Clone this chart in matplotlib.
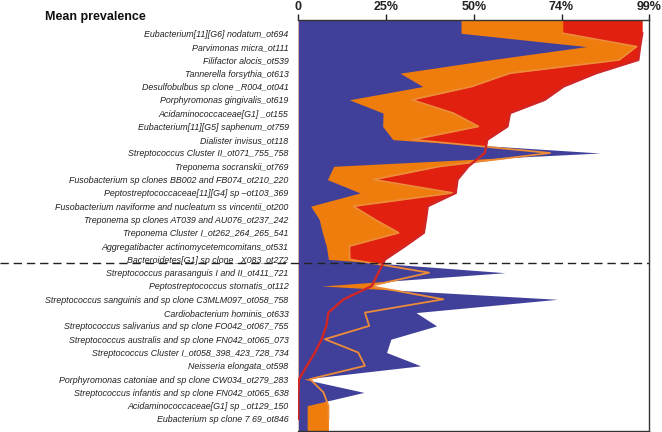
import numpy as np
import matplotlib
matplotlib.use("Agg")
import matplotlib.pyplot as plt

species = [
    "Eubacterium[11][G6] nodatum_ot694",
    "Parvimonas micra_ot111",
    "Filifactor alocis_ot539",
    "Tannerella forsythia_ot613",
    "Desulfobulbus sp clone _R004_ot041",
    "Porphyromonas gingivalis_ot619",
    "Acidaminococcaceae[G1] _ot155",
    "Eubacterium[11][G5] saphenum_ot759",
    "Dialister invisus_ot118",
    "Streptococcus Cluster II_ot071_755_758",
    "Treponema socranskii_ot769",
    "Fusobacterium sp clones BB002 and FB074_ot210_220",
    "Peptostreptococcaceae[11][G4] sp \u2013ot103_369",
    "Fusobacterium naviforme and nucleatum ss vincentii_ot200",
    "Treponema sp clones AT039 and AU076_ot237_242",
    "Treponema Cluster I_ot262_264_265_541",
    "Aggregatibacter actinomycetemcomitans_ot531",
    "Bacteroidetes[G1] sp clone _X083_ot272",
    "Streptococcus parasanguis I and II_ot411_721",
    "Peptostreptococcus stomatis_ot112",
    "Streptococcus sanguinis and sp clone C3MLM097_ot058_758",
    "Cardiobacterium hominis_ot633",
    "Streptococcus salivarius and sp clone FO042_ot067_755",
    "Streptococcus australis and sp clone FN042_ot065_073",
    "Streptococcus Cluster I_ot058_398_423_728_734",
    "Neisseria elongata_ot598",
    "Porphyromonas catoniae and sp clone CW034_ot279_283",
    "Streptococcus infantis and sp clone FN042_ot065_638",
    "Acidaminococcaceae[G1] sp _ot129_150",
    "Eubacterium sp clone 7 69_ot846",
]

blue = [45.9, 81.3, 54.0, 28.7, 35.1, 14.4, 23.9, 23.8, 26.7, 85.1,
        10.0, 8.2, 17.4, 3.5, 5.9, 6.8, 7.9, 8.5, 58.3, 6.6,
        73.1, 33.2, 39.0, 26.1, 24.9, 34.5, 1.5, 18.5, 2.5, 2.5]
orange = [74.6, 95.4, 90.5, 59.7, 48.9, 32.0, 43.7, 50.8, 32.3, 71.0,
          40.0, 21.2, 43.5, 15.5, 21.6, 28.3, 14.4, 14.5, 36.9, 20.2,
          40.9, 18.8, 20.0, 7.5, 16.9, 18.8, 3.3, 7.1, 8.5, 8.5]
red = [97.0, 96.4, 95.9, 84.0, 74.8, 69.5, 59.7, 59.0, 53.3, 52.6,
       48.0, 44.9, 44.4, 36.5, 36.0, 35.4, 30.1, 24.5, 22.6, 20.7,
       12.8, 8.5, 7.9, 6.6, 4.7, 2.4, 0.2, 0.0, 0.0, 0.0]

tick_vals = [0, 24.75, 49.5, 74.25, 99]
tick_labels = ["0", "25%", "50%", "74%", "99%"]
split_after = 17.25   # dashed separator position (row units)

C_BLUE = "#40409a"
C_ORANGE = "#ef7d0e"
C_RED = "#e2200f"
C_ORANGE_LINE = "#ec8b38"
C_RED_LINE = "#d02626"

fig = plt.figure(figsize=(6.62, 4.32), dpi=100)
ax = fig.add_axes([298.3 / 662, 1 - 430.7 / 432, 351 / 662, (430.7 - 20) / 432])

n = len(species)
y = np.arange(n)
top_pad, bot_pad = 1.0, 0.88
y_ext = np.concatenate([[-top_pad], y, [n - 1 + bot_pad]])

def ext(v):
    v = np.asarray(v, float)
    return np.concatenate([[v[0]], v, [v[-1]]])

ax.fill_betweenx(y_ext, 0, ext(red), color=C_RED, lw=0, zorder=1)
ax.fill_betweenx(y_ext, 0, ext(orange), color=C_ORANGE, lw=0, zorder=2)
ax.fill_betweenx(y_ext, 0, ext(blue), color=C_BLUE, lw=0, zorder=3)
ax.plot(orange, y, color=C_ORANGE_LINE, lw=1.3, zorder=4)
ax.plot(red, y, color=C_RED_LINE, lw=1.7, zorder=5)

ax.set_xlim(0, 99)
ax.set_ylim(n - 1 + bot_pad, -top_pad)

# separator
ax.plot([-298.3 / 351, 1], [split_after, split_after], transform=ax.get_yaxis_transform(),
        color="#222222", lw=1.0, dashes=(6, 3.5), clip_on=False, zorder=6)

ax.xaxis.tick_top()
ax.set_xticks(tick_vals)
ax.set_xticklabels(tick_labels, fontsize=9, fontweight="bold", family="Liberation Sans")
ax.tick_params(axis="x", direction="out", length=4, width=1, pad=1, colors="#222222")
ax.set_yticks(y)
ax.set_yticklabels(species, fontsize=6.4, style="italic", family="Liberation Sans", color="#222222")
ax.tick_params(axis="y", length=0, pad=7)

ax.spines["left"].set_visible(False)
for s in ["top", "right", "bottom"]:
    ax.spines[s].set_linewidth(1.0)
    ax.spines[s].set_color("#333333")
    ax.spines[s].set_zorder(7)

fig.text(45 / 662, 1 - 17 / 432, "Mean prevalence", fontsize=9, fontweight="bold",
         family="Liberation Sans", va="center", ha="left", color="#111111")

fig.savefig("out.png", dpi=100)
